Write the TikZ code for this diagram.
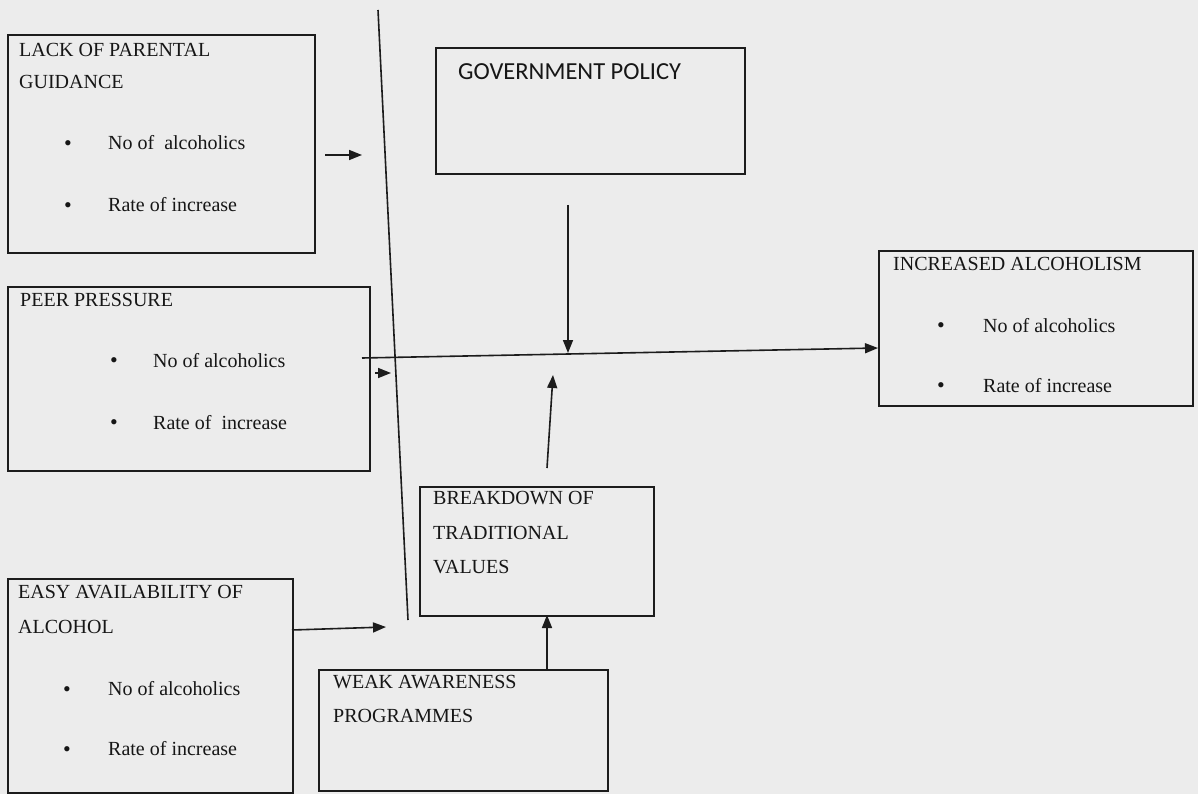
\documentclass[tikz,border=0pt]{standalone}
\usepackage{fontspec}
\setmainfont{Liberation Serif}
\newfontfamily\calib{Carlito}
\usetikzlibrary{arrows.meta}
\definecolor{bgc}{RGB}{236,236,236}
\definecolor{linec}{RGB}{28,28,28}
\definecolor{txtc}{RGB}{22,22,22}
\tikzset{
  box/.style={draw=linec, line width=1.6pt, inner sep=0pt, anchor=north west},
  lbl/.style={anchor=base west, inner sep=0pt, text=txtc, font=\fontsize{20}{22}\selectfont},
  gov/.style={anchor=base west, inner sep=0pt, text=txtc, font=\calib\fontsize{24.5}{26}\selectfont},
  bul/.style={anchor=base west, inner sep=0pt, text=txtc, font=\fontsize{22}{24}\selectfont},
  conn/.style={draw=linec, line width=1.6pt},
  arr/.style={conn, -{Triangle[length=13pt,width=10pt]}}
}
\begin{document}
\begin{tikzpicture}[x=1pt,y=-1pt]
\fill[bgc] (0,0) rectangle (1198,794);
\useasboundingbox (0,0) rectangle (1198,794);

% boxes
\node[box, minimum width=307pt, minimum height=218pt] (lack) at (7,34) {};
\node[box, minimum width=362pt, minimum height=184pt] (peer) at (7,286) {};
\node[box, minimum width=309pt, minimum height=126pt] (govp) at (435,47) {};
\node[box, minimum width=234pt, minimum height=129pt] (brk) at (419,486) {};
\node[box, minimum width=314pt, minimum height=155pt] (incr) at (878,250) {};
\node[box, minimum width=285pt, minimum height=214pt] (easy) at (7,578) {};
\node[box, minimum width=289pt, minimum height=121pt] (weak) at (318,669) {};

% texts
\node[lbl] (t1a) at (19,57) {LACK OF PARENTAL};
\node[lbl] (t1b) at (19,89) {GUIDANCE};
\node[bul] (b1a) at (64,151) {\textbullet};
\node[lbl] (t1c) at (108,150) {No of \ alcoholics};
\node[bul] (b1b) at (64,213) {\textbullet};
\node[lbl] (t1d) at (108,212) {Rate of increase};

\node[lbl] (t2a) at (20,306) {PEER PRESSURE};
\node[bul] (b2a) at (110,367) {\textbullet};
\node[lbl] (t2b) at (153,367) {No of alcoholics};
\node[bul] (b2b) at (110,429) {\textbullet};
\node[lbl] (t2c) at (153,429) {Rate of \ increase};

\node[gov] (t3) at (458,80) {GOVERNMENT POLICY};

\node[lbl] (t4a) at (433,504) {BREAKDOWN OF};
\node[lbl] (t4b) at (433,539) {TRADITIONAL};
\node[lbl] (t4c) at (433,573) {VALUES};

\node[lbl] (t5a) at (893,270) {INCREASED ALCOHOLISM};
\node[bul] (b5a) at (937,332) {\textbullet};
\node[lbl] (t5b) at (983,332) {No of alcoholics};
\node[bul] (b5b) at (937,392) {\textbullet};
\node[lbl] (t5c) at (983,392) {Rate of increase};

\node[lbl] (t6a) at (18,598) {EASY AVAILABILITY OF};
\node[lbl] (t6b) at (18,633) {ALCOHOL};
\node[bul] (b6a) at (63,696) {\textbullet};
\node[lbl] (t6c) at (108,695) {No of alcoholics};
\node[bul] (b6b) at (63,756) {\textbullet};
\node[lbl] (t6d) at (108,755) {Rate of increase};

\node[lbl] (t7a) at (333,688) {WEAK AWARENESS};
\node[lbl] (t7b) at (333,722) {PROGRAMMES};

% connector coordinates
\coordinate (st) at (378,10);
\coordinate (sb) at (408,620);
\coordinate (a1s) at (325,155);
\coordinate (a1e) at (362,155);
\coordinate (hl) at (362,358);
\coordinate (hr) at (878,348);
\coordinate (a2s) at (375,373);
\coordinate (a2e) at (391,373);
\coordinate (g1) at (568,205);
\coordinate (g2) at (568,353);
\coordinate (u1) at (547,468);
\coordinate (u2) at (553,375);
\coordinate (e1) at (292,630);
\coordinate (e2) at (386,627);
\coordinate (w1) at (547,669);
\coordinate (w2) at (547,615);

% connectors
\draw[conn] (st) -- (sb);
\draw[arr] (a1s) -- (a1e);
\draw[arr] (hl) -- (hr);
\draw[arr] (a2s) -- (a2e);
\draw[arr] (g1) -- (g2);
\draw[arr] (u1) -- (u2);
\draw[arr] (e1) -- (e2);
\draw[arr] (w1) -- (w2);
\end{tikzpicture}
\end{document}
